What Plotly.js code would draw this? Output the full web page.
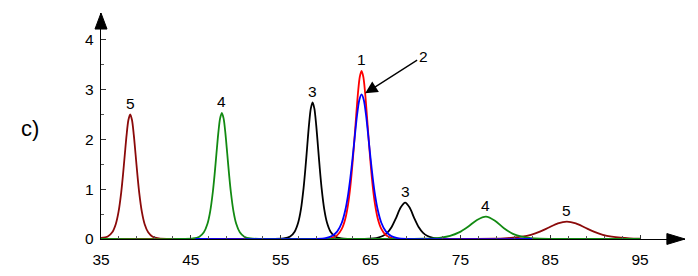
<!DOCTYPE html>
<html>
<head>
<meta charset="utf-8">
<script src="https://cdn.plot.ly/plotly-3.0.1.min.js"></script>
<style>html,body{margin:0;padding:0;background:#fff;}#chart{width:698px;height:276px;}</style>
</head>
<body>
<div id="chart"></div>
<script>
// Curve 5 (dark red)
const curve5X = [35, 35.75, 36.25, 36.65, 36.95, 37.25, 37.45, 37.65, 37.85, 38.05, 38.25, 38.45, 38.65, 38.85, 39.05, 39.25, 39.55, 39.85, 40.25, 40.75, 41.45, 42.5, 44, 60, 76.85, 78.85, 79.85, 80.85, 81.85, 82.85, 83.85, 84.85, 85.85, 86.85, 87.85, 88.85, 89.85, 90.85, 91.85, 92.85, 93.85, 95];
const curve5Y = [0.02, 0.05, 0.134, 0.302, 0.542, 0.936, 1.29, 1.693, 2.087, 2.385, 2.5, 2.385, 2.087, 1.693, 1.29, 0.936, 0.542, 0.302, 0.134, 0.046, 0.012, 0.003, 0, 0, 0.002, 0.007, 0.013, 0.025, 0.047, 0.085, 0.147, 0.231, 0.313, 0.35, 0.313, 0.231, 0.147, 0.085, 0.047, 0.025, 0.013, 0.006];
// Curve 3 (black)
const curve3X = [35, 53, 55.35, 56.05, 56.55, 56.95, 57.25, 57.55, 57.75, 57.95, 58.15, 58.35, 58.55, 58.75, 58.95, 59.15, 59.35, 59.55, 59.85, 60.15, 60.55, 61.05, 61.75, 62.5, 64.35, 65.35, 65.85, 66.35, 66.85, 67.35, 67.85, 68.35, 68.85, 69.35, 69.85, 70.35, 70.85, 71.35, 71.85, 72.35, 73.35, 76, 95];
const curve3Y = [0, 0.001, 0.011, 0.05, 0.147, 0.331, 0.594, 1.026, 1.413, 1.855, 2.287, 2.614, 2.74, 2.614, 2.287, 1.855, 1.413, 1.026, 0.594, 0.331, 0.147, 0.05, 0.011, 0.002, 0.003, 0.0133, 0.0283, 0.06, 0.1235, 0.2408, 0.4252, 0.631, 0.73, 0.631, 0.4252, 0.2408, 0.1235, 0.06, 0.0283, 0.0133, 0.0029, 0.0005, 0];
// Curve 1 (red)
const curve1X = [35, 45, 59.8, 60.7, 61.3, 61.8, 62.2, 62.5, 62.75, 63.0, 63.2, 63.4, 63.6, 63.8, 64.0, 64.2, 64.4, 64.6, 64.8, 65.0, 65.25, 65.5, 65.8, 66.2, 66.7, 67.3, 68.2, 70, 95];
const curve1Y = [0, 0, 0.0045, 0.025, 0.078, 0.202, 0.411, 0.694, 1.046, 1.524, 1.981, 2.471, 2.921, 3.248, 3.37, 3.248, 2.921, 2.471, 1.981, 1.524, 1.046, 0.694, 0.411, 0.202, 0.078, 0.025, 0.0045, 0.001, 0];
// Curve 4 (green)
const curve4X = [35, 44, 45.25, 45.95, 46.45, 46.85, 47.15, 47.45, 47.65, 47.85, 48.05, 48.25, 48.45, 48.65, 48.85, 49.05, 49.25, 49.45, 49.75, 50.05, 50.45, 50.95, 51.65, 53, 60, 69.85, 70.85, 71.85, 72.85, 73.85, 74.85, 75.85, 76.85, 77.85, 78.85, 79.85, 80.85, 81.85, 82.85, 83.85, 84.85, 87, 95];
const curve4Y = [0, 0.002, 0.01, 0.047, 0.135, 0.305, 0.549, 0.947, 1.305, 1.713, 2.112, 2.414, 2.53, 2.414, 2.112, 1.713, 1.305, 0.947, 0.549, 0.305, 0.135, 0.047, 0.01, 0.002, 0, 0.0026, 0.0059, 0.0131, 0.0297, 0.0639, 0.1321, 0.2464, 0.3825, 0.45, 0.368, 0.2164, 0.104, 0.0452, 0.0187, 0.0076, 0.0031, 0.0005, 0];
// Curve 2 (blue)
const curve2X = [45.5, 59.0, 60.0, 60.7, 61.3, 61.8, 62.2, 62.5, 62.75, 63.0, 63.25, 63.5, 63.75, 64.0, 64.25, 64.5, 64.75, 65.0, 65.25, 65.5, 65.8, 66.2, 66.7, 67.3, 68.0, 69.0, 83.0];
const curve2Y = [0, 0.004, 0.019, 0.059, 0.152, 0.325, 0.585, 0.885, 1.218, 1.621, 2.064, 2.481, 2.787, 2.9, 2.787, 2.481, 2.064, 1.621, 1.218, 0.885, 0.585, 0.325, 0.152, 0.059, 0.019, 0.004, 0];

// Peak labels
const peakLabels = ['5', '4', '3', '1', '3', '4', '5'];
const peakX = [38.25, 48.45, 58.55, 64.0, 68.85, 77.85, 86.85];
const peakY = [2.5, 2.53, 2.74, 3.37, 0.73, 0.45, 0.35];
// Arrow label "2"
const arrowLabel = '2';
const arrowX = 64.4;
const arrowY = 2.92;

// Axes ticks
const xTicks = [35, 45, 55, 65, 75, 85, 95];
const xTickLabels = ['35', '45', '55', '65', '75', '85', '95'];
const xMinorTicks = [37, 39, 41, 43, 47, 49, 51, 53, 57, 59, 61, 63, 67, 69, 71, 73, 77, 79, 81, 83, 87, 89, 91, 93];
const yTicks = [0, 1, 2, 3, 4];
const yTickLabels = ['0', '1', '2', '3', '4'];
const yMinorTicks = [0.5, 1.5, 2.5, 3.5];
const panelLabel = 'c)';

const FONT = '"Liberation Sans", Arial, Helvetica, sans-serif';
function tr(x, y, color) {
  return {x: x, y: y, type: 'scatter', mode: 'lines', hoverinfo: 'skip',
    line: {color: color, width: 1.8, shape: 'spline', smoothing: 0.8}, cliponaxis: false};
}
const data = [
  tr(curve5X, curve5Y, '#8b0a0a'),
  tr(curve3X, curve3Y, '#000000'),
  tr(curve1X, curve1Y, '#ff0000'),
  tr(curve4X, curve4Y, '#128a12'),
  tr(curve2X, curve2Y, '#0000ff')
];

const annotations = peakLabels.map((t, i) => ({
  x: peakX[i], y: peakY[i], xref: 'x', yref: 'y', text: t, showarrow: false,
  xanchor: 'center', yanchor: 'middle', yshift: 11,
  font: {family: FONT, size: 15.5, color: '#000'}
}));
annotations.push({
  x: arrowX, y: arrowY, xref: 'x', yref: 'y', text: arrowLabel, showarrow: true,
  ax: 58, ay: -37, arrowhead: 2, arrowsize: 1.9, arrowwidth: 1.3, arrowcolor: '#000',
  standoff: 0, xanchor: 'center', yanchor: 'middle',
  font: {family: FONT, size: 15.5, color: '#000'}
});
annotations.push({
  x: -0.122, y: 0.49, xref: 'paper', yref: 'paper', text: panelLabel, showarrow: false,
  xanchor: 'center', yanchor: 'middle', font: {family: FONT, size: 22, color: '#000'}
});

const layout = {
  width: 698, height: 276,
  margin: {l: 101, r: 13, t: 13, b: 37, pad: 0},
  paper_bgcolor: '#fff', plot_bgcolor: '#fff',
  showlegend: false,
  font: {family: FONT, size: 15, color: '#000'},
  xaxis: {
    range: [35, 100], tickmode: 'array', tickvals: xTicks, ticktext: xTickLabels,
    ticks: 'inside', ticklen: 4.5, tickwidth: 1, tickcolor: '#333', ticklabelstandoff: 6,
    minor: {tickmode: 'array', tickvals: xMinorTicks, ticks: 'inside', ticklen: 2.7, tickwidth: 1, tickcolor: '#555'},
    showline: true, linecolor: '#000', linewidth: 1.3, showgrid: false, zeroline: false,
    tickfont: {family: FONT, size: 15.5, color: '#000'}, fixedrange: true
  },
  yaxis: {
    range: [0, 4.53], tickmode: 'array', tickvals: yTicks, ticktext: yTickLabels,
    ticks: 'inside', ticklen: 5, tickwidth: 1, tickcolor: '#333', ticklabelstandoff: 3,
    minor: {tickmode: 'array', tickvals: yMinorTicks, ticks: 'inside', ticklen: 2.7, tickwidth: 1, tickcolor: '#555'},
    showline: true, linecolor: '#000', linewidth: 1.3, showgrid: false, zeroline: false,
    tickfont: {family: FONT, size: 15.5, color: '#000'}, fixedrange: true
  },
  shapes: [
    {type: 'path', xref: 'paper', yref: 'paper', path: 'M 0.969 0.024 L 1 0 L 0.969 -0.024 Z',
     fillcolor: '#000', line: {color: '#000', width: 1}},
    {type: 'path', xref: 'paper', yref: 'paper', path: 'M -0.0103 0.929 L 0 1 L 0.0103 0.929 Z',
     fillcolor: '#000', line: {color: '#000', width: 1}}
  ],
  annotations: annotations
};

Plotly.newPlot('chart', data, layout, {displayModeBar: false, staticPlot: true});
</script>
</body>
</html>
